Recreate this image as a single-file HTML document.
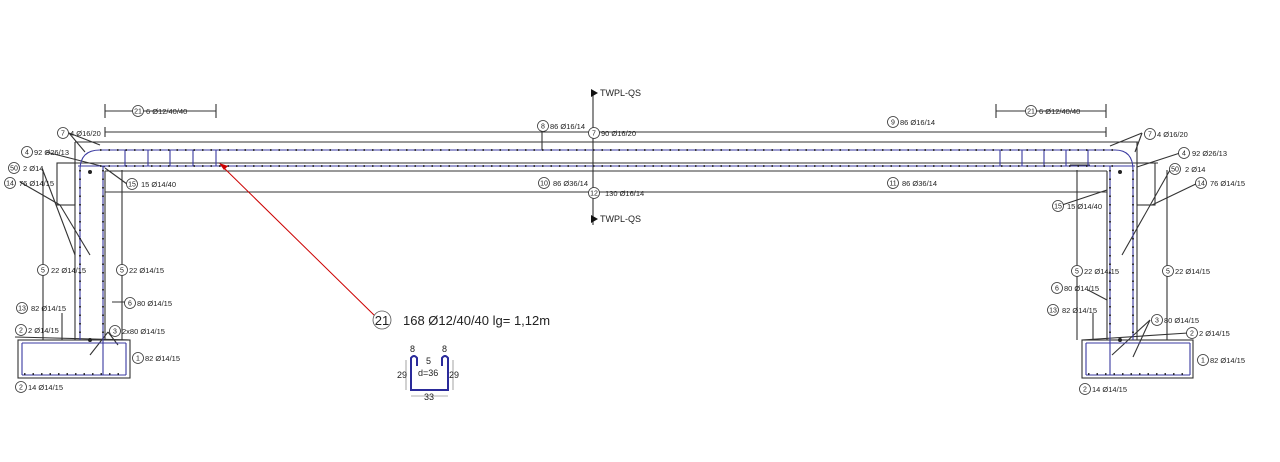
<!DOCTYPE html>
<html><head><meta charset="utf-8"><style>
html,body{margin:0;padding:0;background:#fff;width:1280px;height:462px;overflow:hidden}
svg text{font-family:"Liberation Sans",sans-serif;font-size:7.5px;fill:#222}
svg text.n{text-anchor:middle;font-size:7px}
</style></head><body>
<svg width="1280" height="462" viewBox="0 0 1280 462" xmlns="http://www.w3.org/2000/svg">
<defs>
<g id="c"><circle r="5.5" fill="#fff" stroke="#333" stroke-width="0.8"/></g>
</defs>
<g stroke="#333" stroke-width="1.1" fill="none">
<line x1="75" y1="142" x2="1138" y2="142"/>
<line x1="57" y1="163" x2="1158" y2="163"/>
<line x1="105" y1="171" x2="1107" y2="171"/>
<line x1="105" y1="111" x2="216" y2="111"/><line x1="105" y1="104" x2="105" y2="118"/><line x1="216" y1="104" x2="216" y2="118"/>
<line x1="996" y1="111" x2="1106" y2="111"/><line x1="996" y1="104" x2="996" y2="118"/><line x1="1106" y1="104" x2="1106" y2="118"/>
<line x1="105" y1="132" x2="1106" y2="132"/><line x1="105" y1="127" x2="105" y2="137"/><line x1="1106" y1="127" x2="1106" y2="137"/>
<line x1="105" y1="192" x2="1107" y2="192"/>
<line x1="75" y1="142" x2="75" y2="340"/><line x1="105" y1="171" x2="105" y2="340"/>
<rect x="57" y="163" width="18" height="42"/>
<line x1="43" y1="170" x2="43" y2="340"/><line x1="122" y1="170" x2="122" y2="340"/>
<rect x="18" y="340" width="112" height="38"/>
<line x1="1137" y1="142" x2="1137" y2="340"/><line x1="1107" y1="171" x2="1107" y2="340"/>
<rect x="1137" y="163" width="18" height="42"/>
<line x1="1077" y1="170" x2="1077" y2="340"/><line x1="1167" y1="170" x2="1167" y2="340"/>
<rect x="1082" y="340" width="111" height="38"/>
<line x1="593" y1="92" x2="593" y2="225"/>
<line x1="69" y1="133" x2="85" y2="152"/><line x1="69" y1="133" x2="100" y2="145"/>
<line x1="46" y1="152" x2="105" y2="167"/><line x1="20" y1="182" x2="60" y2="205"/>
<line x1="60" y1="205" x2="90" y2="255"/><line x1="42" y1="168" x2="75" y2="255"/>
<line x1="105" y1="168" x2="127" y2="184"/>
<line x1="1142" y1="133" x2="1135" y2="152"/><line x1="1142" y1="133" x2="1110" y2="146"/>
<line x1="1180" y1="153" x2="1137" y2="167"/><line x1="1200" y1="182" x2="1152" y2="205"/>
<line x1="1170" y1="170" x2="1122" y2="255"/>
<line x1="1062" y1="205" x2="1107" y2="190"/>
<line x1="108" y1="332" x2="118" y2="345"/><line x1="108" y1="332" x2="90" y2="355"/>
<line x1="1150" y1="320" x2="1112" y2="355"/><line x1="1150" y1="320" x2="1133" y2="357"/>
<line x1="130" y1="302" x2="112" y2="302"/>
<line x1="1088" y1="290" x2="1107" y2="300"/>
<line x1="15" y1="337" x2="130" y2="340"/><line x1="1188" y1="333" x2="1082" y2="340"/>
<line x1="62" y1="313" x2="62" y2="340"/><line x1="1093" y1="313" x2="1093" y2="340"/>
<line x1="542" y1="128" x2="542" y2="150"/><line x1="1070" y1="165" x2="1090" y2="165"/>
</g>
<g stroke="#3a3aa0" stroke-width="1.1" fill="none">
<path d="M80 340 V170 Q80 150 100 150 H1115 Q1133 150 1133 170 V340"/>
<line x1="78" y1="166" x2="1135" y2="166"/>
<line x1="103" y1="166" x2="103" y2="375"/><line x1="1110" y1="166" x2="1110" y2="375"/>
<line x1="22" y1="343" x2="126" y2="343"/><line x1="22" y1="375" x2="126" y2="375"/>
<line x1="22" y1="343" x2="22" y2="375"/><line x1="126" y1="343" x2="126" y2="375"/>
<line x1="1086" y1="343" x2="1190" y2="343"/><line x1="1086" y1="375" x2="1190" y2="375"/>
<line x1="1086" y1="343" x2="1086" y2="375"/><line x1="1190" y1="343" x2="1190" y2="375"/>
<path d="M125 150V166M148 150V166M170 150V166M193 150V166M216 150V166M1000 150V166M1022 150V166M1044 150V166M1066 150V166M1088 150V166"/>
</g>
<g stroke="#222" stroke-width="1.8" fill="none" stroke-dasharray="1.5 7">
<line x1="100" y1="150" x2="1115" y2="150"/><line x1="100" y1="166" x2="1115" y2="166"/>
<line x1="80" y1="170" x2="80" y2="340"/><line x1="103" y1="170" x2="103" y2="340"/>
<line x1="1110" y1="170" x2="1110" y2="340"/><line x1="1133" y1="170" x2="1133" y2="340"/>
<line x1="24" y1="374" x2="126" y2="374"/><line x1="1088" y1="374" x2="1190" y2="374"/>
</g>
<g fill="#222"><circle cx="90" cy="172" r="2"/><circle cx="90" cy="340" r="2"/><circle cx="1120" cy="172" r="2"/><circle cx="1120" cy="340" r="2"/></g>
<path d="M591 89 l7 4 l-7 4z" fill="#111"/><text x="600" y="96" style="font-size:9px">TWPL-QS</text>
<path d="M591 215 l7 4 l-7 4z" fill="#111"/><text x="600" y="222" style="font-size:9px">TWPL-QS</text>
<line x1="375" y1="316" x2="222" y2="166" stroke="#c00" stroke-width="1"/>
<path d="M219 163 l9 3 l-4 4z" fill="#c00"/>
<g>
<use href="#c" x="138" y="111"/><text class="n" x="138" y="113.5">21</text><text x="146" y="114">6 Ø12/40/40</text>
<use href="#c" x="1031" y="111"/><text class="n" x="1031" y="113.5">21</text><text x="1039" y="114">6 Ø12/40/40</text>
<use href="#c" x="63" y="133"/><text class="n" x="63" y="135.5">7</text><text x="70" y="136">4 Ø16/20</text>
<use href="#c" x="1150" y="134"/><text class="n" x="1150" y="136.5">7</text><text x="1157" y="137">4 Ø16/20</text>
<use href="#c" x="27" y="152"/><text class="n" x="27" y="154.5">4</text><text x="34" y="155">92 Ø26/13</text>
<use href="#c" x="1184" y="153"/><text class="n" x="1184" y="155.5">4</text><text x="1192" y="156">92 Ø26/13</text>
<use href="#c" x="14" y="168"/><text class="n" x="14" y="170.5">50</text><text x="23" y="171">2 Ø14</text>
<use href="#c" x="1175" y="169"/><text class="n" x="1175" y="171.5">50</text><text x="1185" y="172">2 Ø14</text>
<use href="#c" x="10" y="183"/><text class="n" x="10" y="185.5">14</text><text x="19" y="186">76 Ø14/15</text>
<use href="#c" x="1201" y="183"/><text class="n" x="1201" y="185.5">14</text><text x="1210" y="186">76 Ø14/15</text>
<use href="#c" x="132" y="184"/><text class="n" x="132" y="186.5">15</text><text x="141" y="187">15 Ø14/40</text>
<use href="#c" x="1058" y="206"/><text class="n" x="1058" y="208.5">15</text><text x="1067" y="209">15 Ø14/40</text>
<use href="#c" x="543" y="126"/><text class="n" x="543" y="128.5">8</text><text x="550" y="129">86 Ø16/14</text>
<use href="#c" x="594" y="133"/><text class="n" x="594" y="135.5">7</text><text x="601" y="136">90 Ø16/20</text>
<use href="#c" x="893" y="122"/><text class="n" x="893" y="124.5">9</text><text x="900" y="125">86 Ø16/14</text>
<use href="#c" x="544" y="183"/><text class="n" x="544" y="185.5">10</text><text x="553" y="186">86 Ø36/14</text>
<use href="#c" x="594" y="193"/><text class="n" x="594" y="195.5">12</text><text x="605" y="196">130 Ø16/14</text>
<use href="#c" x="893" y="183"/><text class="n" x="893" y="185.5">11</text><text x="902" y="186">86 Ø36/14</text>
<use href="#c" x="43" y="270"/><text class="n" x="43" y="272.5">5</text><text x="51" y="273">22 Ø14/15</text>
<use href="#c" x="122" y="270"/><text class="n" x="122" y="272.5">5</text><text x="129" y="273">22 Ø14/15</text>
<use href="#c" x="1077" y="271"/><text class="n" x="1077" y="273.5">5</text><text x="1084" y="274">22 Ø14/15</text>
<use href="#c" x="1168" y="271"/><text class="n" x="1168" y="273.5">5</text><text x="1175" y="274">22 Ø14/15</text>
<use href="#c" x="130" y="303"/><text class="n" x="130" y="305.5">6</text><text x="137" y="306">80 Ø14/15</text>
<use href="#c" x="1057" y="288"/><text class="n" x="1057" y="290.5">6</text><text x="1064" y="291">80 Ø14/15</text>
<use href="#c" x="22" y="308"/><text class="n" x="22" y="310.5">13</text><text x="31" y="311">82 Ø14/15</text>
<use href="#c" x="1053" y="310"/><text class="n" x="1053" y="312.5">13</text><text x="1062" y="313">82 Ø14/15</text>
<use href="#c" x="21" y="330"/><text class="n" x="21" y="332.5">2</text><text x="28" y="333">2 Ø14/15</text>
<use href="#c" x="1192" y="333"/><text class="n" x="1192" y="335.5">2</text><text x="1199" y="336">2 Ø14/15</text>
<use href="#c" x="115" y="331"/><text class="n" x="115" y="333.5">3</text><text x="122" y="334">2x80 Ø14/15</text>
<use href="#c" x="1157" y="320"/><text class="n" x="1157" y="322.5">3</text><text x="1164" y="323">80 Ø14/15</text>
<use href="#c" x="138" y="358"/><text class="n" x="138" y="360.5">1</text><text x="145" y="361">82 Ø14/15</text>
<use href="#c" x="1203" y="360"/><text class="n" x="1203" y="362.5">1</text><text x="1210" y="363">82 Ø14/15</text>
<use href="#c" x="21" y="387"/><text class="n" x="21" y="389.5">2</text><text x="28" y="390">14 Ø14/15</text>
<use href="#c" x="1085" y="389"/><text class="n" x="1085" y="391.5">2</text><text x="1092" y="392">14 Ø14/15</text>
</g>
<circle cx="382" cy="320" r="9" fill="#fff" stroke="#555" stroke-width="0.8"/>
<text x="382" y="325" style="font-size:13px;text-anchor:middle">21</text>
<text x="403" y="325" style="font-size:13px">168 Ø12/40/40 lg= 1,12m</text>
<path d="M411 360 V390 H448 V360" fill="none" stroke="#2a2a9a" stroke-width="2"/>
<path d="M411 366 V358 Q414 354 417 358 V366 M442 366 V358 Q445 354 448 358 V366" fill="none" stroke="#2a2a9a" stroke-width="2"/>
<g stroke="#666" stroke-width="0.6" fill="none"><line x1="406" y1="360" x2="406" y2="390"/><line x1="453" y1="360" x2="453" y2="390"/><line x1="411" y1="396" x2="448" y2="396"/></g>
<text x="410" y="352" style="font-size:9px">8</text><text x="442" y="352" style="font-size:9px">8</text>
<text x="426" y="364" style="font-size:9px">5</text>
<text x="418" y="376" style="font-size:9px">d=36</text>
<text x="397" y="378" style="font-size:9px">29</text><text x="449" y="378" style="font-size:9px">29</text>
<text x="424" y="400" style="font-size:9px">33</text>
</svg>
</body></html>
